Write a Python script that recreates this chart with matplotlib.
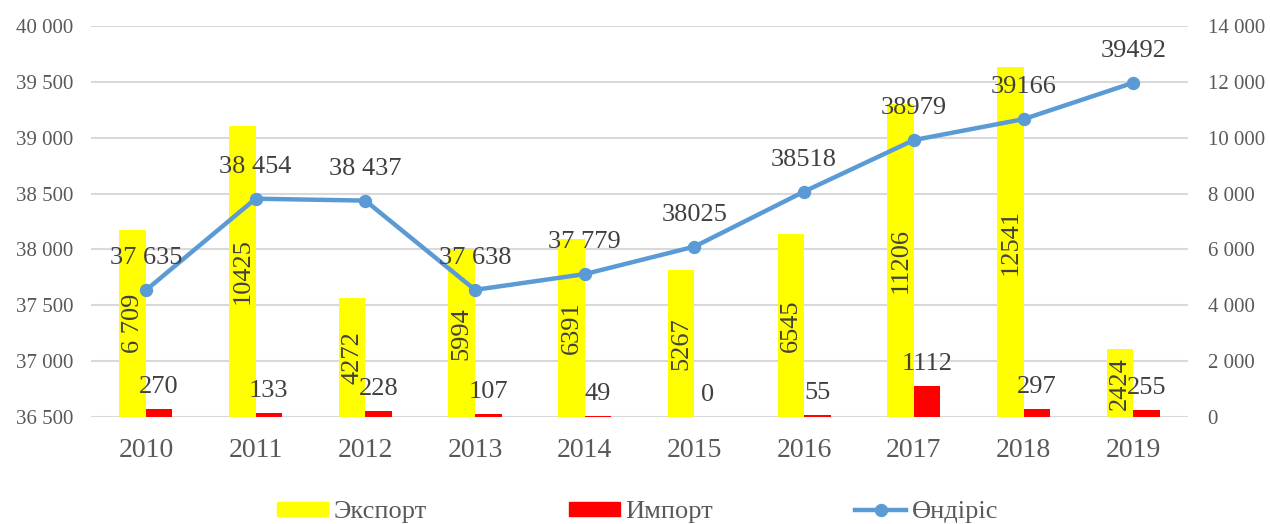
import numpy as np
import matplotlib
matplotlib.use("Agg")
import matplotlib.pyplot as plt
from matplotlib.lines import Line2D
from matplotlib.patches import Patch

plt.rcParams['font.family'] = ['Liberation Serif', 'DejaVu Serif']

# data
years = ['2010', '2011', '2012', '2013', '2014', '2015', '2016', '2017', '2018', '2019']
export_vals = [6709, 10425, 4272, 5994, 6391, 5267, 6545, 11206, 12541, 2424]
import_vals = [270, 133, 228, 107, 49, 0, 55, 1112, 297, 255]
prod_vals = [37635, 38454, 38437, 37638, 37779, 38025, 38518, 38979, 39166, 39492]
export_labels = ['6 709', '10425', '4272', '5994', '6391', '5267', '6545', '11206', '12541', '2424']
prod_labels = ['37 635', '38 454', '38 437', '37 638', '37 779', '38025', '38518', '38979', '39166', '39492']

YELLOW = '#FFFF00'
RED = '#FF0000'
BLUE = '#5B9BD5'
TICK_C = '#595959'
LBL_C = '#404040'

fig = plt.figure(figsize=(12.7, 5.24), dpi=100)
ax = fig.add_axes([0.0717, 0.2042, 0.8638, 0.7462])   # line (left axis)
ax2 = ax.twinx()                                       # bars (right axis)

x = np.arange(len(years))
w = 0.242

# bars on right axis
ax2.bar(x - w/2, export_vals, w, color=YELLOW, zorder=2)
ax2.bar(x + w/2, import_vals, w, color=RED, zorder=2)
ax2.set_ylim(0, 14000)
ax2.set_yticks(np.arange(0, 14001, 2000))
ax2.set_yticklabels(['0'] + ['{:,}'.format(v).replace(',', ' ') for v in range(2000, 14001, 2000)])
ax2.yaxis.grid(True, color='#d9d9d9', linewidth=1.5, zorder=0)
ax2.set_axisbelow(True)

for i in range(len(years)):
    ax2.text(x[i] - w/2, export_vals[i] / 2, export_labels[i], rotation=90,
             ha='center', va='center', fontsize=19, color=LBL_C, zorder=3)
    ax2.annotate(str(import_vals[i]), (x[i] + w/2, import_vals[i]),
                 xytext=(0, 8), textcoords='offset points',
                 ha='center', va='bottom', fontsize=19, color=LBL_C, zorder=3)

# line on left axis, drawn above the bars
ax.set_zorder(ax2.get_zorder() + 1)
ax.patch.set_visible(False)
ax.plot(x, prod_vals, color=BLUE, linewidth=3.2, marker='o', markersize=8.6, zorder=4)
ax.set_ylim(36500, 40000)
ax.set_yticks(np.arange(36500, 40001, 500))
ax.set_yticklabels(['{:,}'.format(v).replace(',', ' ') for v in range(36500, 40001, 500)])
for i in range(len(years)):
    ax.annotate(prod_labels[i], (x[i], prod_vals[i]),
                xytext=(0, 15), textcoords='offset points',
                ha='center', va='bottom', fontsize=19, color=LBL_C, zorder=5)

ax.set_xlim(-0.5, len(years) - 0.5)
ax.set_xticks(x)
ax.set_xticklabels(years, fontsize=20, color=TICK_C)

for a in (ax, ax2):
    for s in a.spines.values():
        s.set_visible(False)
    a.tick_params(length=0)
ax.tick_params(axis='y', labelsize=15, colors=TICK_C, pad=13)
ax.tick_params(axis='x', pad=15)
ax2.tick_params(axis='y', labelsize=15, colors=TICK_C, pad=14)

handles = [Patch(color=YELLOW), Patch(color=RED),
           Line2D([], [], color=BLUE, linewidth=3.2, marker='o', markersize=8.6)]
fig.legend(handles, ['Экспорт', 'Импорт', 'Өндіріс'], loc='center',
           bbox_to_anchor=(0.502, 0.022), ncol=3, frameon=False,
           fontsize=19, handlelength=1.93, handleheight=0.45, handletextpad=0.2,
           columnspacing=5.4, labelcolor=TICK_C)

fig.savefig('out.png', dpi=100)
